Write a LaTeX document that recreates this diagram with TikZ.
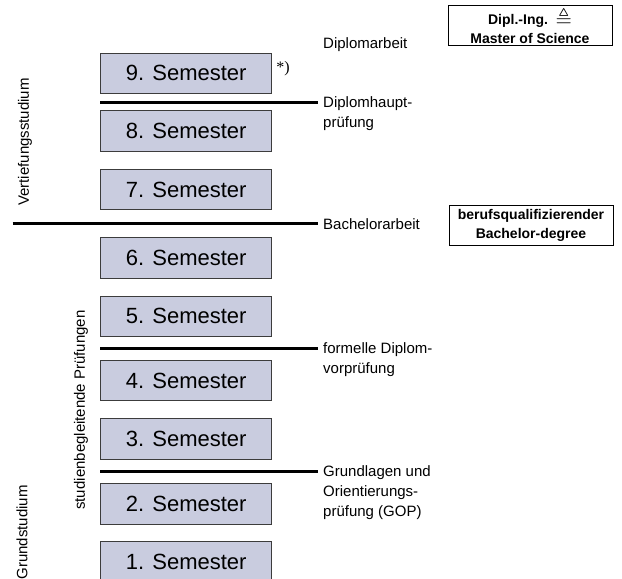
\documentclass[tikz,border=0pt]{standalone}
\usepackage{amssymb}
\usepackage{fontspec}
\setmainfont{Liberation Sans}
\newfontfamily\notefont{Liberation Serif}
\usetikzlibrary{positioning}
\definecolor{semfill}{RGB}{201,204,223}
\definecolor{semedge}{RGB}{60,60,60}

\begin{document}
\begin{tikzpicture}[x=1pt, y=-1pt,
	sem/.style={draw=semedge, fill=semfill, line width=0.9pt, minimum width=171pt, minimum height=40.5pt, inner sep=0pt, font=\fontsize{22}{26}\selectfont},
	bar/.style={line width=3pt},
	lbl/.style={anchor=north west, align=left, inner sep=0pt, font=\fontsize{15}{20}\selectfont},
	side/.style={rotate=90, inner sep=0pt, font=\fontsize{15}{18}\selectfont},
	degree/.style={draw, line width=0.9pt, align=center, minimum width=164pt, minimum height=40pt, inner sep=2pt, font=\bfseries\fontsize{14}{19}\selectfont}]
	\useasboundingbox (0,0) rectangle (622,579);
	
	\node[sem] (s9) at (186.2,73.3) {9. Semester};
	\node[sem] (s8) at (186.2,131) {8. Semester};
	\node[sem] (s7) at (186.2,189.5) {7. Semester};
	\node[sem] (s6) at (186.2,258) {6. Semester};
	\node[sem] (s5) at (186.2,316.2) {5. Semester};
	\node[sem] (s4) at (186.2,380.5) {4. Semester};
	\node[sem] (s3) at (186.2,439) {3. Semester};
	\node[sem] (s2) at (186.2,503.7) {2. Semester};
	\node[sem] (s1) at (186.2,562) {1. Semester};
	
	\node[font=\notefont\fontsize{16}{18}\selectfont, inner sep=0pt] (note) at (283,69) {*)};
	
	\coordinate (dhp) at (317.5,102.3);
	\coordinate (bal) at (12.7,223);
	\coordinate (bar) at (317.5,223);
	\coordinate (dvp) at (317.5,348.3);
	\coordinate (gop) at (317.5,471.7);
	
	\draw[bar] (s9.west |- dhp) -- (dhp);
	\draw[bar] (bal) -- (bar);
	\draw[bar] (s5.west |- dvp) -- (dvp);
	\draw[bar] (s2.west |- gop) -- (gop);
	
	\node[lbl, anchor=west] (dat) at (323,45) {Diplomarbeit};
	\node[lbl] (dhpt) at (323,96.5) {Diplomhaupt-\\prüfung};
	\node[lbl, anchor=west] (bat) at (323,224) {Bachelorarbeit};
	\node[lbl] (dvpt) at (323,342.5) {formelle Diplom-\\vorprüfung};
	\node[lbl] (gopt) at (323,465.5) {Grundlagen und\\Orientierungs-\\prüfung (GOP)};
	
	\node[degree] (msc) at (530,25.5) {Dipl.-Ing.\, \raisebox{-1.5pt}{\scalebox{1.5}{$\triangleq$}}\\Master of Science};
	\node[degree] (bsc) at (531,225) {berufsqualifizierender\\Bachelor-degree};
	
	\node[side] (vst) at (25,142) {Vertiefungsstudium};
	\node[side] (sbp) at (81,410) {studienbegleitende Prüfungen};
	\node[side, anchor=east] (gst) at (22,485) {Grundstudium};
\end{tikzpicture}
\end{document}
